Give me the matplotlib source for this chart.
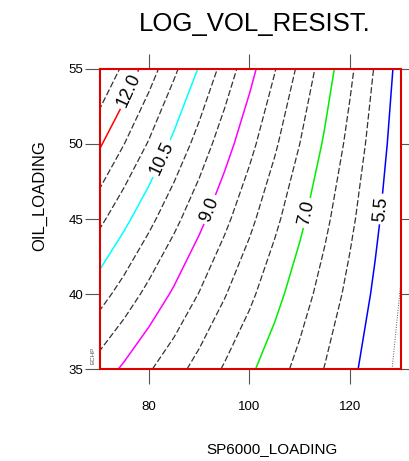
import numpy as np
import matplotlib.pyplot as plt

plt.rcParams['font.family'] = ['Liberation Sans', 'DejaVu Sans']

# response surface read on a grid (rows = OIL_LOADING, cols = SP6000_LOADING)
sp6000_loading = [70, 75, 80, 85, 90, 95, 100, 105, 110, 115, 120, 125, 130]
oil_loading = [35, 40, 45, 50, 55]
log_vol_resist = [
    [9.29, 8.92, 8.55, 8.19, 7.82, 7.45, 7.09, 6.72, 6.35, 5.98, 5.62, 5.25, 4.88],
    [10.22, 9.79, 9.35, 8.92, 8.48, 8.04, 7.61, 7.17, 6.73, 6.30, 5.86, 5.42, 4.99],
    [11.14, 10.64, 10.14, 9.64, 9.14, 8.63, 8.13, 7.62, 7.12, 6.61, 6.11, 5.60, 5.10],
    [12.08, 11.51, 10.95, 10.37, 9.80, 9.22, 8.65, 8.08, 7.50, 6.93, 6.35, 5.78, 5.20],
    [13.03, 12.39, 11.74, 11.10, 10.46, 9.82, 9.17, 8.53, 7.89, 7.24, 6.60, 5.96, 5.31],
]

labelled_levels = [5.5, 7.0, 9.0, 10.5, 12.0]
dashed_levels = [6.0, 6.5, 7.5, 8.0, 8.5, 9.5, 10.0, 11.0, 11.5, 12.5]
dotted_levels = [5.0]
labelled_colors = ['#0000ff', '#00ee00', '#ff00ff', '#00ffff', '#ff0000']

fig = plt.figure(figsize=(4.09, 4.61), dpi=100)
ax = fig.add_axes([100 / 409, 92 / 461, 301 / 409, 300 / 461])
ax.set_xlim(70.25, 130.15)
ax.set_ylim(35, 55)

X, Y = np.meshgrid(sp6000_loading, oil_loading)
Z = np.array(log_vol_resist)

ax.contour(X, Y, Z, levels=dashed_levels, colors='#333333',
           linestyles=[(0, (5, 2))], linewidths=0.9)
ax.contour(X, Y, Z, levels=dotted_levels, colors='#555555',
           linestyles=[(0, (1, 1.5))], linewidths=0.7)
cs = ax.contour(X, Y, Z, levels=labelled_levels, colors=labelled_colors,
                linestyles='solid', linewidths=1.1)
ax.clabel(cs, fmt='%.1f', fontsize=13, colors='k', inline=True, inline_spacing=3,
          manual=[(125.1, 45.7), (110.0, 45.5), (90.8, 45.8), (81.5, 49.2), (74.6, 53.8)])

ax.set_xlim(70.25, 130.15)
ax.set_ylim(35, 55)
ax.set_xticks([80, 100, 120])
ax.set_yticks([35, 40, 45, 50, 55])

for sp in ax.spines.values():
    sp.set_color('#e00000')
    sp.set_linewidth(1.5)
    sp.set_zorder(5)

ax.tick_params(direction='out', length=11, width=0.8, color='#555555',
               top=True, right=True, labelsize=9.5)
ax.tick_params(axis='x', pad=12)
ax.tick_params(axis='y', pad=1)

fig.text(255 / 409, 1 - 31 / 461, 'LOG_VOL_RESIST.', ha='center', va='baseline', fontsize=18.5)
fig.text(272 / 409, 1 - 453 / 461, 'SP6000_LOADING', ha='center', va='baseline', fontsize=11)
fig.text(40 / 409, 1 - 196 / 461, 'OIL_LOADING', ha='center', va='center', rotation=90, fontsize=12)
fig.text(93 / 409, 1 - 355 / 461, 'ECHP', ha='center', va='center', rotation=90,
         fontsize=4.5, color='#555555')

fig.savefig('out.png', dpi=100)
